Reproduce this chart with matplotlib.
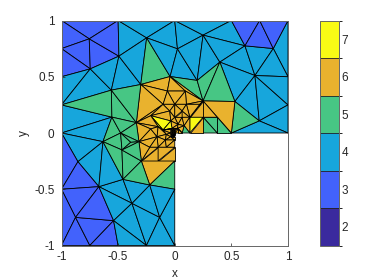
import matplotlib
matplotlib.use("Agg")
import matplotlib.pyplot as plt
import matplotlib.tri as mtri
from matplotlib.colors import ListedColormap, BoundaryNorm
import numpy as np

plt.rcParams['font.family'] = ['Liberation Sans', 'DejaVu Sans']

LEVELS = [2, 3, 4, 5, 6, 7]
LEVEL_COLORS = ['#3a2a9e', '#4262fc', '#17a6dc', '#47c684', '#e9b22e', '#f9fb15']
X_TICKS = [-1, -0.5, 0, 0.5, 1]
Y_TICKS = [-1, -0.5, 0, 0.5, 1]
X_TICK_LABELS = ['-1', '-0.5', '0', '0.5', '1']
Y_TICK_LABELS = ['-1', '-0.5', '0', '0.5', '1']

NODES = {
    'a0': (-1, 1), 'a1': (-.5, 1), 'a2': (0, 1), 'a3': (.5, 1), 'a4': (.75, 1), 'a5': (1, 1),
    'L75': (-1, .75), 'L50': (-1, .5), 'L25': (-1, .25), 'L0': (-1, 0), 'Lm5': (-1, -.5),
    'b0': (-1, -1), 'b1': (-.75, -1), 'b2': (-.5, -1), 'b3': (-.25, -1), 'b4': (0, -1),
    'c1': (0, -.5), 'c2': (0, -.249),
    'Q10': (1, .25), 'Q11': (1, .5), 'Q13': (.5, 0), 'Q14': (1, 0),
    'P1': (-.755, .837), 'P2': (-.746, .57), 'P3': (-.493, .683), 'P4': (-.248, .846),
    'P5': (-.56, .381), 'P6': (-.30, .431), 'P7': (-.041, .502), 'P8': (-.555, .141),
    'P9': (-.339, .092),
    'Q1': (.25, .87), 'Q2': (.024, .748), 'Q3': (.62, .775), 'Q4': (.87, .751),
    'Q5': (.398, .63), 'Q6': (.708, .511), 'Q7': (.198, .467), 'Q8': (.25, .285),
    'Q9': (.531, .28), 'Q12': (.746, .108),
    'e1': (.25, .14), 'e2': (.375, .14), 'e3': (.25, 0), 'e4': (.375, 0), 'e5': (.133, .14),
    'R1': (-.855, -.255), 'R2': (-.634, -.077), 'R3': (-.67, -.477), 'R4': (-.876, -.75),
    'R5': (-.54, -.779), 'R6': (-.378, -.625), 'R7': (-.133, -.75), 'R8': (-.221, -.462),
    'R9': (-.457, -.412), 'R10': (-.295, -.249), 'R11': (-.466, -.151), 'R12': (-.478, 0),
    'H': (-.389, -.083),
    'u1': (-.065, .373), 'u2': (-.103, .255), 'u3': (.094, .373), 'u4': (0, .255),
    'u5': (.103, .255), 'u6': (.221, .255), 'v2': (-.044, .196), 'v3': (.065, .196),
    'w1': (0, .139), 'w2': (.065, .139), 'y1': (-.035, .107), 'x1': (.029, .077),
    'x2': (.083, .065), 'x3': (.024, .041), 'y2': (-.024, .041), 'y3': (-.103, .027),
    'y4': (-.147, .056), 'N1': (-.212, .154), 'B': (-.212, .036), 'C': (-.156, -.033),
    'A': (-.316, -.077), 'D': (-.221, -.127), 'E': (-.147, -.127), 'F': (-.074, -.127),
    'G': (0, -.127), 'H2': (-.083, -.062), 'I': (0, -.062), 'J': (-.074, -.012),
    'K': (-.035, -.033), 'k0': (-.035, 0), 'k1': (0, .036), 'k3': (0, -.033),
    'k5': (-.035, .036), 'k6': (.0325, .036), 'k7': (.0325, 0),
    'z0': (.133, 0), 'z1': (.065, 0), 'bot': (-.147, -.249),
}

TRIANGLES = [
    ('a0', 'a1', 'P1', 3), ('a0', 'P1', 'L75', 3), ('L75', 'P1', 'P2', 3), ('P1', 'P3', 'P2', 3),
    ('P1', 'a1', 'P3', 3), ('L75', 'P2', 'L50', 3),
    ('L50', 'P2', 'L25', 4), ('P2', 'P5', 'L25', 4), ('P2', 'P3', 'P5', 4), ('P3', 'P6', 'P5', 4),
    ('a1', 'P4', 'P3', 4), ('a1', 'a2', 'P4', 4), ('P3', 'P4', 'P6', 4), ('P4', 'P7', 'P6', 5),
    ('a2', 'Q2', 'P4', 4), ('P4', 'Q2', 'P7', 4), ('Q2', 'Q7', 'P7', 4), ('a2', 'Q1', 'Q2', 4),
    ('Q1', 'Q7', 'Q2', 4), ('Q1', 'Q5', 'Q7', 4), ('a2', 'a3', 'Q1', 4), ('a3', 'Q3', 'Q1', 4),
    ('Q1', 'Q3', 'Q5', 4), ('Q3', 'Q6', 'Q5', 4), ('Q3', 'Q4', 'Q6', 4), ('Q4', 'a5', 'Q11', 4),
    ('Q4', 'Q11', 'Q6', 4), ('Q5', 'Q6', 'Q9', 4), ('Q6', 'Q12', 'Q9', 4), ('Q6', 'Q10', 'Q12', 4),
    ('Q6', 'Q11', 'Q10', 4), ('Q12', 'Q10', 'Q14', 4), ('Q12', 'Q14', 'Q13', 4),
    ('Q9', 'Q12', 'Q13', 5),
    ('a3', 'a4', 'Q3', 3), ('a4', 'Q4', 'Q3', 3), ('a4', 'a5', 'Q4', 3),
    ('P7', 'Q7', 'Q8', 5), ('Q7', 'Q5', 'Q8', 5), ('Q5', 'Q9', 'Q8', 5),
    ('Q8', 'Q9', 'Q13', 6), ('Q8', 'e2', 'e1', 6), ('e1', 'e2', 'e4', 5), ('e1', 'e4', 'e3', 5),
    ('e2', 'e4', 'Q13', 5), ('Q8', 'e1', 'e5', 6),
    ('e5', 'e1', 'z0', 7), ('e1', 'e3', 'z0', 6),
    # refined region, upper side
    ('P6', 'P7', 'u1', 6), ('P7', 'u3', 'u1', 6), ('P7', 'Q8', 'u3', 6), ('u3', 'Q8', 'u5', 6),
    ('u5', 'Q8', 'u6', 6), ('u6', 'Q8', 'e5', 6), ('u5', 'u6', 'e5', 6), ('P6', 'u1', 'u2', 6),
    ('u1', 'u3', 'u4', 6), ('u1', 'u4', 'u2', 6), ('u3', 'u5', 'u4', 6), ('P6', 'u2', 'P9', 6),
    ('P9', 'u2', 'N1', 6), ('N1', 'u2', 'v2', 6), ('N1', 'v2', 'y1', 6), ('v2', 'w1', 'y1', 6),
    ('u2', 'u4', 'v2', 6), ('u4', 'w1', 'v2', 6), ('u4', 'u5', 'v3', 6), ('u4', 'v3', 'w1', 6),
    ('v3', 'w2', 'w1', 6), ('v3', 'e5', 'w2', 6), ('u5', 'e5', 'v3', 6),
    ('w1', 'w2', 'x1', 6), ('w1', 'x1', 'y1', 6), ('y1', 'x1', 'y2', 6), ('x1', 'x3', 'y2', 6),
    ('y2', 'x3', 'k1', 6), ('w2', 'x2', 'x1', 6), ('w2', 'e5', 'x2', 6), ('x1', 'x3', 'x2', 6),
    ('e5', 'z0', 'x2', 6), ('x2', 'z0', 'z1', 5), ('x2', 'z1', 'x3', 6), ('x3', 'k1', 'k6', 6),
    ('x3', 'k6', 'z1', 6), ('k6', 'k7', 'z1', 6),
    ('N1', 'y1', 'y3', 7), ('y1', 'y2', 'y3', 7), ('N1', 'y3', 'y4', 7),
    ('P9', 'N1', 'y4', 6), ('P9', 'y4', 'B', 6), ('P9', 'B', 'A', 6), ('A', 'B', 'C', 6),
    ('B', 'y4', 'C', 6), ('y4', 'y3', 'J', 6), ('y4', 'J', 'C', 6), ('J', 'y3', 'k0', 6),
    ('y3', 'k5', 'k0', 6), ('y3', 'y2', 'k5', 6), ('y2', 'k1', 'k5', 6),
    # refined region, lower side
    ('C', 'J', 'H2', 6), ('J', 'K', 'H2', 6), ('J', 'K', 'k0', 6), ('H2', 'I', 'K', 6),
    ('I', 'k3', 'K', 6), ('C', 'H2', 'E', 6), ('E', 'H2', 'F', 6), ('F', 'H2', 'I', 6),
    ('F', 'I', 'G', 6), ('A', 'C', 'D', 6), ('D', 'C', 'E', 6), ('R10', 'D', 'E', 6),
    ('R10', 'A', 'D', 6), ('R10', 'bot', 'E', 6), ('bot', 'c2', 'G', 6), ('bot', 'G', 'E', 6),
    ('R10', 'c2', 'R8', 6), ('R8', 'c2', 'c1', 5),
    # left and bottom parts
    ('L25', 'P8', 'L0', 4), ('L25', 'P5', 'P8', 5), ('P5', 'P9', 'P8', 5), ('P5', 'P6', 'P9', 5),
    ('L0', 'P8', 'R2', 4), ('L0', 'R2', 'R1', 4), ('L0', 'R1', 'Lm5', 3), ('R1', 'R2', 'R3', 4),
    ('R1', 'R3', 'Lm5', 3), ('Lm5', 'R3', 'R4', 3), ('Lm5', 'R4', 'b0', 3), ('R4', 'b0', 'b1', 3),
    ('R4', 'b1', 'R5', 3), ('b1', 'b2', 'R5', 3), ('R3', 'R5', 'R4', 3),
    ('R3', 'R9', 'R6', 4), ('R3', 'R6', 'R5', 4), ('R5', 'R6', 'b3', 4), ('R5', 'b3', 'b2', 4),
    ('R6', 'R7', 'b3', 4), ('R6', 'R8', 'R7', 4), ('R9', 'R8', 'R6', 4), ('R7', 'b3', 'b4', 4),
    ('R7', 'c1', 'b4', 4), ('R8', 'c1', 'R7', 4), ('R2', 'R9', 'R3', 4),
    ('P8', 'R2', 'R12', 5), ('P8', 'R12', 'P9', 5), ('R12', 'R2', 'R11', 5), ('R2', 'R9', 'R11', 5),
    ('R11', 'R10', 'R9', 5), ('R9', 'R10', 'R8', 5), ('R12', 'P9', 'A', 5), ('R12', 'A', 'H', 5),
    ('R12', 'H', 'R11', 5), ('H', 'A', 'R11', 5), ('R11', 'A', 'R10', 5),
]

# finest cells at the re-entrant corner: left, bottom, width, height, diagonal, two levels
CELLS = [
    (-.035, -.033, .0175, .0165, '/', 6, 6), (-.0175, -.033, .0175, .0165, '/', 6, 6),
    (-.035, -.0165, .0175, .0165, '/', 6, 6), (-.0175, -.0165, .00875, .00825, '/', 6, 6),
    (-.00875, -.0165, .00875, .00825, '/', 6, 6), (-.0175, -.00825, .00875, .00825, '/', 6, 6),
    (-.00875, -.00825, .00875, .00825, '/', 6, 6),
    (-.035, 0, .0175, .018, '\\', 6, 7), (-.0175, 0, .0175, .018, '\\', 6, 6),
    (-.035, .018, .0175, .018, '\\', 7, 6), (-.0175, .018, .0175, .018, '\\', 6, 6),
    (0, 0, .0325, .036, '/', 6, 6),
]

xs, ys, tris, vals = [], [], [], []
index = {}

def node(p):
    key = (round(float(p[0]), 5), round(float(p[1]), 5))
    if key not in index:
        index[key] = len(xs)
        xs.append(key[0])
        ys.append(key[1])
    return index[key]

for a, b, c, v in TRIANGLES:
    tris.append([node(NODES[a]), node(NODES[b]), node(NODES[c])])
    vals.append(v)

for x0, y0, w, h, diag, v1, v2 in CELLS:
    bl, br = (x0, y0), (x0 + w, y0)
    tl, tr = (x0, y0 + h), (x0 + w, y0 + h)
    if diag == '/':
        first, second = (bl, tl, tr), (bl, tr, br)
    else:
        first, second = (tl, bl, br), (tl, br, tr)
    tris.append([node(p) for p in first]); vals.append(v1)
    tris.append([node(p) for p in second]); vals.append(v2)

cmap = ListedColormap(LEVEL_COLORS)
norm = BoundaryNorm(np.arange(LEVELS[0] - .5, LEVELS[-1] + 1), cmap.N)

W, H = 374, 280
fig = plt.figure(figsize=(W / 100, H / 100), dpi=100)
ax = fig.add_axes([61.5 / W, 1 - 245.5 / H, 226.5 / W, 225 / H])
triang = mtri.Triangulation(np.array(xs), np.array(ys), np.array(tris))
pc = ax.tripcolor(triang, facecolors=np.array(vals, dtype=float), cmap=cmap, norm=norm,
                  edgecolors='black', linewidth=0.6)
ax.set_xlim(-1, 1)
ax.set_ylim(-1, 1)
ax.set_xticks(X_TICKS, X_TICK_LABELS)
ax.set_yticks(Y_TICKS, Y_TICK_LABELS)
ax.tick_params(direction='in', length=2.2, width=0.5, color='#262626', labelcolor='#262626',
               labelsize=8.5, pad=4)
ax.tick_params(axis='y', pad=5)
for s in ax.spines.values():
    s.set_color('#666666')
    s.set_linewidth(0.7)
    s.set_zorder(5)
ax.set_xlabel('x', fontsize=8.5, color='#262626', labelpad=3.5)
ax.set_ylabel('y', fontsize=8.5, color='#262626', labelpad=3)

cax = fig.add_axes([319.5 / W, 1 - 245.5 / H, 19 / W, 225 / H])
cb = fig.colorbar(pc, cax=cax, ticks=LEVELS, drawedges=True, spacing='proportional')
cb.dividers.set_color('#222222')
cb.dividers.set_linewidth(0.6)
cb.outline.set_edgecolor('#666666')
cb.outline.set_linewidth(0.7)
cb.ax.tick_params(length=0, labelsize=8.5, labelcolor='#262626', pad=2)
fig.savefig('out.png', dpi=100)
